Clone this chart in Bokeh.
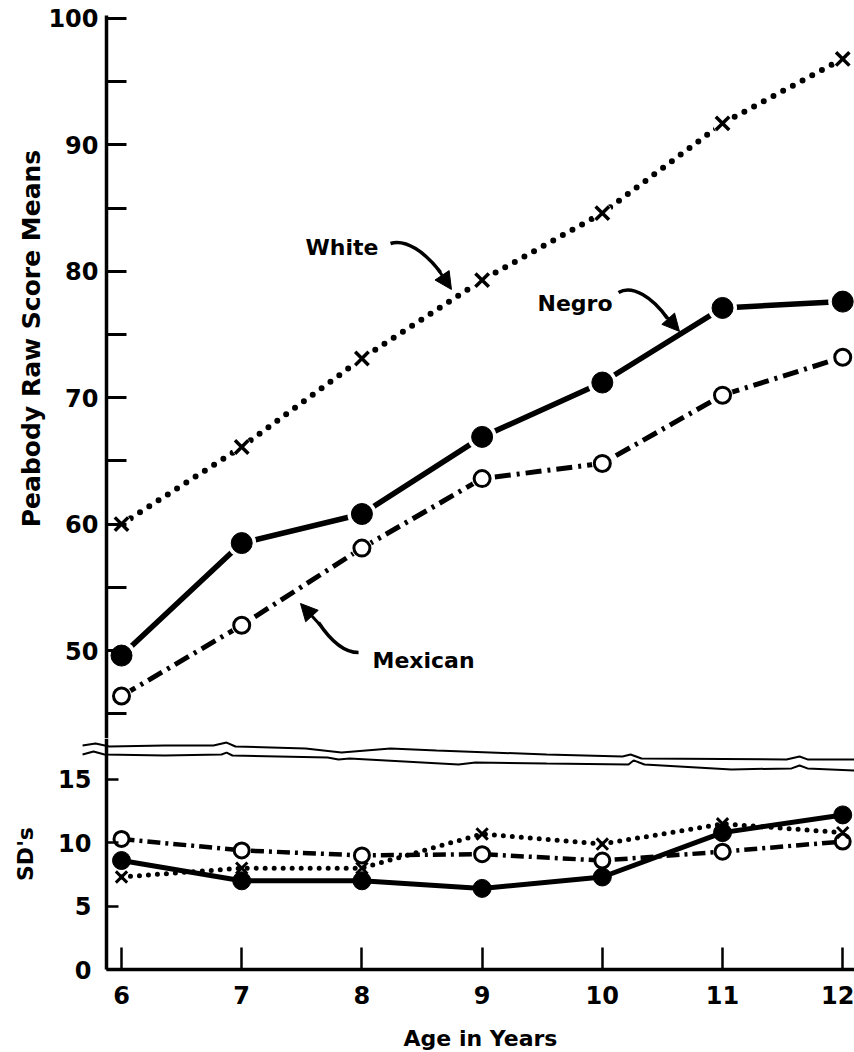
import math
from bokeh.plotting import figure
from bokeh.layouts import column
from bokeh.models import Range1d, FixedTicker, Label, Arrow, NormalHead
from bokeh.embed import file_html
from bokeh.resources import INLINE

# ---------------- data ----------------
ages = [6, 7, 8, 9, 10, 11, 12]
age_labels = ["6", "7", "8", "9", "10", "11", "12"]

white_mean = [60.0, 66.1, 73.1, 79.3, 84.6, 91.7, 96.8]
negro_mean = [49.6, 58.5, 60.8, 66.9, 71.2, 77.1, 77.6]
mexican_mean = [46.4, 52.0, 58.1, 63.6, 64.8, 70.2, 73.2]

white_sd = [7.3, 8.0, 8.0, 10.7, 9.9, 11.5, 10.8]
negro_sd = [8.6, 7.0, 7.0, 6.4, 7.3, 10.8, 12.2]
mexican_sd = [10.3, 9.4, 9.0, 9.1, 8.6, 9.3, 10.1]

mean_ticks = [50, 60, 70, 80, 90, 100]
mean_minor = [45, 55, 65, 75, 85, 95]
sd_ticks = [0, 5, 10, 15]

FONT = "DejaVu Sans"
X0, X1 = 4.9933, 12.098
AXIS_X = 5.875

xr = Range1d(X0, X1)


def style_axis(ax, label_size="24px"):
    ax.axis_line_width = 3.5
    ax.axis_line_color = "black"
    ax.major_tick_line_color = "black"
    ax.minor_tick_line_color = "black"
    ax.major_label_text_font = FONT
    ax.major_label_text_font_style = "bold"
    ax.major_label_text_font_size = label_size
    ax.major_label_text_color = "black"
    ax.axis_label_text_font = FONT
    ax.axis_label_text_font_style = "bold"
    ax.axis_label_text_font_size = "22px"
    ax.axis_label_text_color = "black"


# ---------------- top panel (means) ----------------
p1 = figure(width=854, height=738, x_range=xr, y_range=Range1d(43.04, 101.42),
            output_backend="svg", toolbar_location=None, x_axis_location=None,
            min_border_left=0, min_border_right=0, min_border_top=0, min_border_bottom=0,
            outline_line_color=None, background_fill_color="white", border_fill_color="white")
p1.grid.visible = False
ya = p1.yaxis[0]
style_axis(ya)
ya.fixed_location = AXIS_X
ya.bounds = (43.04, 100.24)
ya.ticker = FixedTicker(ticks=mean_ticks, minor_ticks=mean_minor)
ya.major_tick_in = 20
ya.major_tick_out = 0
ya.minor_tick_in = 20
ya.minor_tick_out = 0
ya.major_tick_line_width = 3
ya.minor_tick_line_width = 3
ya.major_label_standoff = 8

# lines
p1.line(ages, white_mean, line_color="black", line_width=6, line_dash="0 11", line_cap="round")
p1.line(ages, negro_mean, line_color="black", line_width=5.5)
p1.line(ages, mexican_mean, line_color="black", line_width=5, line_dash="16 6 3 6")
# small white gaps around markers
p1.scatter(ages, negro_mean, marker="circle", size=29, fill_color="white", line_color=None)
p1.scatter(ages, mexican_mean, marker="circle", size=21, fill_color="white", line_color=None)
p1.scatter(ages, white_mean, marker="circle", size=20, fill_color="white", line_color=None)
# markers
p1.scatter(ages, negro_mean, marker="circle", size=21, fill_color="black", line_color="black")
p1.scatter(ages, mexican_mean, marker="circle", size=16, fill_color="white", line_color="black", line_width=3)
p1.scatter(ages, white_mean, marker="x", size=19, line_color="black", line_width=3.5)

# y-axis title
p1.add_layout(Label(x=5.251, y=74.68, text="Peabody Raw Score Means", angle=math.pi / 2,
                    text_align="center", text_baseline="middle", text_font=FONT,
                    text_font_style="bold", text_font_size="25px", text_color="black"))

# series annotations
for txt, lx, ly in [("White", 7.531, 81.88), ("Negro", 9.461, 77.45), ("Mexican", 8.088, 49.21)]:
    p1.add_layout(Label(x=lx, y=ly, text=txt, text_font=FONT, text_font_style="bold",
                        text_font_size="22px", text_color="black", text_baseline="alphabetic"))

arrows = [
    # bezier: x0, y0, cx0, cy0, cx1, cy1, x1, y1 ; head: xs, ys, xe, ye
    ((8.238, 82.20, 8.363, 82.59, 8.529, 81.49, 8.654, 79.91), (8.629, 80.22, 8.745, 78.56)),
    ((10.135, 78.32, 10.251, 78.96, 10.418, 77.93, 10.542, 76.27), (10.517, 76.58, 10.642, 75.24)),
    ((7.972, 49.84, 7.847, 49.84, 7.739, 50.79, 7.639, 52.22), (7.664, 51.90, 7.489, 53.72)),
]
for (bx0, by0, bcx0, bcy0, bcx1, bcy1, bx1, by1), (hx0, hy0, hx1, hy1) in arrows:
    p1.bezier(x0=[bx0], y0=[by0], cx0=[bcx0], cy0=[bcy0], cx1=[bcx1], cy1=[bcy1],
              x1=[bx1], y1=[by1], line_color="black", line_width=3.5)
    p1.add_layout(Arrow(end=NormalHead(size=17, fill_color="black", line_color="black", line_width=1),
                        x_start=hx0, y_start=hy0, x_end=hx1, y_end=hy1,
                        line_color="black", line_width=3))

# ---------------- bottom panel (SDs) ----------------
p2 = figure(width=854, height=314, x_range=xr, y_range=Range1d(-6.55, 18.23),
            output_backend="svg", toolbar_location=None,
            min_border_left=0, min_border_right=0, min_border_top=0, min_border_bottom=0,
            outline_line_color=None, background_fill_color="white", border_fill_color="white")
p2.grid.visible = False

yb = p2.yaxis[0]
style_axis(yb)
yb.fixed_location = AXIS_X
yb.bounds = (0, 18.23)
yb.ticker = FixedTicker(ticks=sd_ticks, minor_ticks=[])
yb.major_tick_in = 12
yb.major_tick_out = 0
yb.minor_tick_in = 0
yb.minor_tick_out = 0
yb.major_tick_line_width = 2.5
yb.major_label_standoff = 15
yb.axis_label = "SD's"
yb.axis_label_standoff = 17

xb = p2.xaxis[0]
style_axis(xb)
xb.fixed_location = 0
xb.ticker = FixedTicker(ticks=ages, minor_ticks=[])
xb.major_label_overrides = {a: l for a, l in zip(ages, age_labels)}
xb.bounds = (AXIS_X, X1)
xb.major_tick_in = 22
xb.major_tick_out = 0
xb.minor_tick_in = 0
xb.minor_tick_out = 0
xb.major_tick_line_width = 2.5
xb.major_label_standoff = 16
xb.axis_label = "Age in Years"
xb.axis_label_standoff = 19

# axis-break marks (decorative)
brk_upper_x = [5.676, 5.784, 5.900, 6.358, 6.765, 6.874, 6.948, 7.531, 7.830, 8.238, 8.621,
               9.536, 10.168, 10.235, 10.326, 11.532, 11.641, 11.707, 12.098]
brk_upper_y = [17.67, 17.83, 17.60, 17.67, 17.67, 17.91, 17.60, 17.44, 17.12, 17.44, 17.28,
               16.97, 16.81, 16.97, 16.65, 16.58, 16.81, 16.58, 16.58]
brk_lower_x = [5.676, 5.767, 5.859, 6.358, 6.832, 6.874, 6.923, 7.714, 7.805, 7.897, 8.804,
               8.945, 9.536, 10.218, 10.260, 10.351, 11.075, 11.574, 11.641, 11.707, 12.098]
brk_lower_y = [16.97, 17.20, 16.97, 16.89, 16.97, 17.12, 16.89, 16.73, 16.58, 16.65, 16.18,
               16.34, 16.26, 16.18, 16.50, 16.18, 15.79, 15.87, 16.10, 15.87, 15.71]
p2.line(brk_upper_x, brk_upper_y, line_color="black", line_width=2)
p2.line(brk_lower_x, brk_lower_y, line_color="black", line_width=2)

p2.line(ages, white_sd, line_color="black", line_width=5, line_dash="0 9", line_cap="round")
p2.line(ages, negro_sd, line_color="black", line_width=5)
p2.line(ages, mexican_sd, line_color="black", line_width=4.5, line_dash="13 5 3 5")
p2.scatter(ages, negro_sd, marker="circle", size=18, fill_color="black", line_color="black")
p2.scatter(ages, mexican_sd, marker="circle", size=15, fill_color="white", line_color="black", line_width=3)
p2.scatter(ages, white_sd, marker="x", size=16, line_color="black", line_width=3)

layout = column(p1, p2, spacing=0)
open("out.html", "w").write(file_html(layout, INLINE))
